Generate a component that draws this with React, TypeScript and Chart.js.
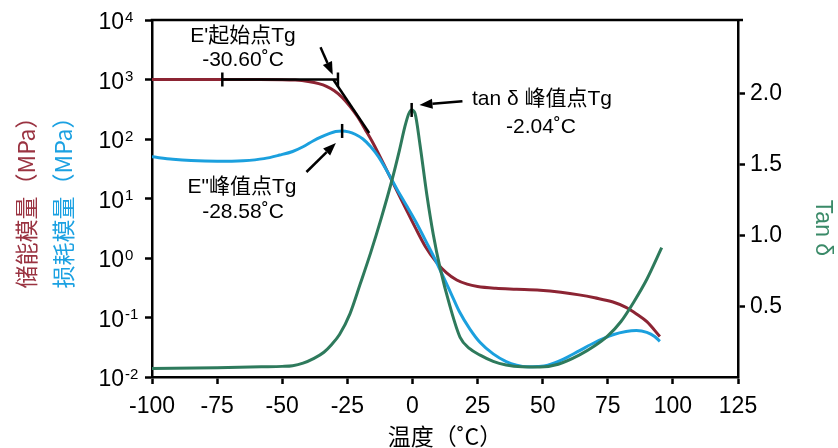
import React, { useEffect, useRef } from "react";
import { Chart, registerables } from "chart.js";

Chart.register(...registerables);

// ---- Data ----
const storageTemps = [-100, -75, -60, -50, -45, -40, -36, -33, -30, -27, -24, -21, -18, -15, -11, -7, -3, 1, 5, 9, 13, 17, 21, 25, 32, 40, 49, 57, 64, 70, 77, 82, 86, 90, 95];
const storageModulus = [1000, 1000, 999, 995, 977, 923, 851, 767, 646, 501, 355, 234, 141, 83.2, 37.6, 16.6, 7.41, 3.31, 1.55, 0.871, 0.569, 0.427, 0.363, 0.331, 0.309, 0.299, 0.288, 0.266, 0.24, 0.214, 0.182, 0.148, 0.115, 0.0851, 0.0479];

const lossTemps = [-100, -92, -85, -75, -65, -57, -51, -46, -42, -38, -35, -32, -29.5, -27, -24.5, -22, -19, -16, -13, -10, -6, -2, 2, 6, 9, 12, 15, 18, 22, 26, 31, 36, 40, 44, 48, 52, 58, 64, 70, 77, 82, 86, 90, 93, 95];
const lossModulus = [50.1, 45.7, 43.4, 42.2, 43.2, 46.8, 53.7, 61.7, 74.1, 93.3, 108.4, 123, 133.4, 136.5, 131.8, 120.2, 100, 74.1, 50.1, 30.2, 14.5, 7.24, 3.55, 1.62, 0.891, 0.468, 0.243, 0.126, 0.0646, 0.038, 0.0245, 0.0182, 0.0158, 0.0148, 0.015, 0.0158, 0.02, 0.0275, 0.038, 0.0513, 0.0582, 0.0603, 0.0562, 0.0479, 0.0398];

const tanTemps = [-100, -75, -58, -50, -46, -42, -38, -34, -31, -28, -24, -20, -16, -12, -8, -5, -3, -1.5, -0.3, 1.0, 2.9, 5.5, 8.0, 10.6, 14.4, 18.3, 22, 26, 31, 36, 42, 49, 56, 64, 70, 75, 80, 85, 90, 95.7];
const tanDelta = [0.06, 0.066, 0.072, 0.075, 0.08, 0.098, 0.13, 0.175, 0.23, 0.3, 0.446, 0.66, 0.88, 1.12, 1.38, 1.6, 1.76, 1.855, 1.885, 1.86, 1.64, 1.29, 1.006, 0.77, 0.5, 0.28, 0.2, 0.154, 0.11, 0.085, 0.072, 0.07, 0.09, 0.154, 0.22, 0.29, 0.39, 0.53, 0.69, 0.913];

const xTickValues = [-100, -75, -50, -25, 0, 25, 50, 75, 100, 125];
const logExponents = [-2, -1, 0, 1, 2, 3, 4];
const tanTickValues = [0.5, 1.0, 1.5, 2.0];

const xTitle = "温度（˚C）";
const storageTitle = "储能模量（MPa）";
const lossTitle = "损耗模量（MPa）";
const tanTitle = "Tan δ";

const RED = "#8C2433";
const BLUE = "#1BA0DE";
const GREEN = "#2E7A5C";

const LATIN = "'Liberation Sans', 'Noto Sans CJK SC', sans-serif";
const CJK = "'Noto Sans CJK SC', 'Liberation Sans', sans-serif";

function arrow(ctx: CanvasRenderingContext2D, x0: number, y0: number, x1: number, y1: number) {
  const ang = Math.atan2(y1 - y0, x1 - x0);
  const len = 13;
  const w = 5;
  const bx = x1 - len * Math.cos(ang);
  const by = y1 - len * Math.sin(ang);
  ctx.beginPath();
  ctx.moveTo(x0, y0);
  ctx.lineTo(bx, by);
  ctx.lineWidth = 2.5;
  ctx.stroke();
  ctx.beginPath();
  ctx.moveTo(x1, y1);
  ctx.lineTo(bx + w * Math.sin(ang), by - w * Math.cos(ang));
  ctx.lineTo(bx - w * Math.sin(ang), by + w * Math.cos(ang));
  ctx.closePath();
  ctx.fill();
}

function seg(ctx: CanvasRenderingContext2D, x0: number, y0: number, x1: number, y1: number, w = 2.5) {
  ctx.beginPath();
  ctx.moveTo(x0, y0);
  ctx.lineTo(x1, y1);
  ctx.lineWidth = w;
  ctx.stroke();
}

const decoPlugin = {
  id: "deco",
  afterDraw(chart: any) {
    const { ctx, chartArea: a, scales } = chart;
    const sx = scales.x;
    const sy = scales.y;
    const sr = scales.y1;
    const X = (v: number) => sx.getPixelForValue(v);
    const YL = (v: number) => sy.getPixelForValue(v);
    const YR = (v: number) => sr.getPixelForValue(v);
    ctx.save();
    ctx.strokeStyle = "#000";
    ctx.fillStyle = "#000";
    ctx.lineCap = "butt";

    // top frame line
    seg(ctx, a.left - 1.25, a.top, a.right + 5, a.top, 2.5);

    // left log tick labels 10^n
    for (const e of logExponents) {
      const py = YL(Math.pow(10, e));
      ctx.font = `23px ${LATIN}`;
      ctx.textAlign = "right";
      ctx.textBaseline = "alphabetic";
      ctx.fillText("10", 124, py + 9);
      ctx.font = `15px ${LATIN}`;
      ctx.textAlign = "left";
      ctx.fillText(String(e), 125, py + 1.5);
    }

    // E' onset annotation
    const yOn = YL(1000);
    seg(ctx, X(-73), yOn, X(-28.6), yOn);
    seg(ctx, X(-73), yOn - 7, X(-73), yOn + 7);
    seg(ctx, X(-28.6), yOn - 7, X(-28.6), yOn + 7);
    seg(ctx, X(-30.4), YL(1000), X(-16.6), YL(126));
    arrow(ctx, X(-35.3), YL(3470), X(-30.6), YL(1200));

    // E'' peak annotation
    const yPk = YL(136.5);
    seg(ctx, X(-27.0), yPk - 7, X(-27.0), yPk + 7);
    arrow(ctx, X(-40.7), YL(27.9), X(-29.4), YL(86));

    // tan delta peak annotation
    const yTp = YR(1.885);
    seg(ctx, X(-0.3), yTp - 7, X(-0.3), yTp + 7);
    arrow(ctx, X(19.2), YR(1.947), X(2.7), YR(1.92));

    // annotation text
    ctx.textAlign = "center";
    ctx.textBaseline = "middle";
    ctx.font = `21px ${LATIN}`;
    ctx.fillText("E'起始点Tg", 243, 36);
    ctx.fillText("-30.60˚C", 243, 60);
    ctx.fillText("E\"峰值点Tg", 242, 187);
    ctx.fillText("-28.58˚C", 243, 212);
    ctx.fillText("tan δ 峰值点Tg", 542, 99);
    ctx.fillText("-2.04˚C", 541, 127);

    // axis titles
    ctx.font = `23px ${CJK}`;
    ctx.fillStyle = "#000";
    ctx.fillText(xTitle, (a.left + a.right) / 2, 436);

    ctx.save();
    ctx.translate(26, 197);
    ctx.rotate(-Math.PI / 2);
    ctx.fillStyle = "#9A3341";
    ctx.fillText(storageTitle, 0, 0);
    ctx.restore();

    ctx.save();
    ctx.translate(63, 197);
    ctx.rotate(-Math.PI / 2);
    ctx.fillStyle = "#1BA1E2";
    ctx.fillText(lossTitle, 0, 0);
    ctx.restore();

    ctx.save();
    ctx.translate(822, 228);
    ctx.rotate(Math.PI / 2);
    ctx.font = `23px ${LATIN}`;
    ctx.fillStyle = "#3A8A68";
    ctx.fillText(tanTitle, 0, 0);
    ctx.restore();

    ctx.restore();
  },
};

export default function App() {
  const ref = useRef<HTMLCanvasElement | null>(null);

  useEffect(() => {
    if (!ref.current) return;
    const toPts = (xs: number[], ys: number[]) => xs.map((x, i) => ({ x, y: ys[i] }));
    const chart = new Chart(ref.current, {
      type: "line",
      data: {
        datasets: [
          {
            label: "E'",
            data: toPts(storageTemps, storageModulus),
            borderColor: RED,
            borderWidth: 3,
            pointRadius: 0,
            cubicInterpolationMode: "monotone",
            yAxisID: "y",
            order: 3,
          },
          {
            label: "E''",
            data: toPts(lossTemps, lossModulus),
            borderColor: BLUE,
            borderWidth: 3,
            pointRadius: 0,
            cubicInterpolationMode: "monotone",
            yAxisID: "y",
            order: 2,
          },
          {
            label: "tan δ",
            data: toPts(tanTemps, tanDelta),
            borderColor: GREEN,
            borderWidth: 3,
            pointRadius: 0,
            cubicInterpolationMode: "monotone",
            yAxisID: "y1",
            order: 1,
          },
        ],
      },
      options: {
        animation: false,
        responsive: false,
        devicePixelRatio: 1,
        layout: { padding: { top: 20, left: 0, right: 0, bottom: 0 } },
        plugins: { legend: { display: false }, tooltip: { enabled: false }, title: { display: false } },
        scales: {
          x: {
            type: "linear",
            min: -100,
            max: 125,
            afterBuildTicks: (s: any) => {
              s.ticks = xTickValues.map((v) => ({ value: v }));
            },
            afterFit: (s: any) => {
              s.height = 71;
            },
            ticks: {
              autoSkip: false,
              maxRotation: 0,
              color: "#000",
              font: { family: LATIN, size: 23 },
              padding: 9,
              callback: (v: any) => String(v),
            },
            grid: { drawOnChartArea: false, drawTicks: true, tickLength: 7, tickWidth: 2.5, tickColor: "#000" },
            border: { display: true, color: "#000", width: 2.5 },
          },
          y: {
            type: "logarithmic",
            position: "left",
            min: 0.01,
            max: 10000,
            afterBuildTicks: (s: any) => {
              s.ticks = logExponents.map((e) => ({ value: Math.pow(10, e) }));
            },
            afterFit: (s: any) => {
              s.width = 152;
            },
            ticks: { autoSkip: false, callback: () => "", font: { size: 10 } },
            grid: { drawOnChartArea: false, drawTicks: true, tickLength: 7, tickWidth: 2.5, tickColor: "#000" },
            border: { display: true, color: "#000", width: 2.5 },
          },
          y1: {
            type: "linear",
            position: "right",
            min: 0,
            max: 2.52,
            afterBuildTicks: (s: any) => {
              s.ticks = tanTickValues.map((v) => ({ value: v }));
            },
            afterFit: (s: any) => {
              s.width = 100;
            },
            ticks: {
              autoSkip: false,
              color: "#000",
              font: { family: LATIN, size: 23 },
              padding: 5,
              callback: (v: any) => Number(v).toFixed(1),
            },
            grid: { drawOnChartArea: false, drawTicks: true, tickLength: 7, tickWidth: 2.5, tickColor: "#000" },
            border: { display: true, color: "#000", width: 2.5 },
          },
        },
      } as any,
      plugins: [decoPlugin],
    });
    return () => chart.destroy();
  }, []);

  return (
    <div style={{ position: "fixed", left: 0, top: 0, width: 838, height: 448, background: "#fff" }}>
      <canvas ref={ref} width={838} height={448} style={{ width: 838, height: 448, display: "block" }} />
    </div>
  );
}
